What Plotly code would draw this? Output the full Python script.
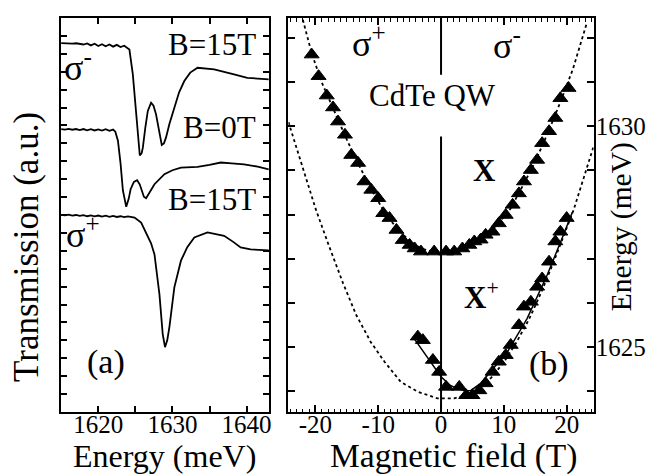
import plotly.graph_objects as go

# ---------------- Panel (a): transmission spectra ----------------
top_x = [1615.0, 1615.5, 1616.0, 1616.5, 1617.0, 1617.5, 1618.0, 1618.5, 1619.0, 1619.5,
         1620.0, 1620.5, 1621.0, 1621.5, 1622.0, 1622.5, 1623.0, 1623.5, 1624.2, 1624.66,
         1625.11, 1625.35, 1625.6, 1625.85, 1626.01, 1626.35, 1626.68, 1627.12, 1627.45,
         1627.79, 1628.2, 1628.56, 1628.85, 1629.13, 1629.6, 1630.26, 1630.9, 1631.6, 1632.4,
         1633.39, 1635.63, 1638.31, 1640.1, 1643.0]
top_y = [20.60, 20.58, 20.60, 20.57, 20.59, 20.55, 20.52, 20.58, 20.47, 20.56,
         20.44, 20.54, 20.42, 20.52, 20.40, 20.50, 20.38, 20.45, 20.24, 18.85,
         16.43, 15.20, 14.32, 14.45, 14.76, 15.90, 16.81, 17.27, 17.10,
         16.62, 15.60, 14.91, 15.00, 15.32, 16.10, 16.99, 17.85, 18.48, 18.95,
         19.22, 19.13, 18.85, 18.66, 18.57]

mid_x = [1615.0, 1615.5, 1616.0, 1616.5, 1617.0, 1617.5, 1618.0, 1618.5, 1619.0, 1619.5,
         1620.0, 1620.5, 1621.0, 1621.5, 1622.0, 1622.3, 1622.65, 1623.0, 1623.32, 1623.77,
         1624.1, 1624.36, 1624.8, 1625.24, 1625.6, 1625.87, 1626.15, 1626.45, 1627.0,
         1627.58, 1628.92, 1630.0, 1631.15, 1633.39, 1635.0, 1636.52, 1638.0, 1639.66,
         1641.5, 1643.0]
mid_y = [15.80, 15.77, 15.81, 15.76, 15.80, 15.74, 15.80, 15.73, 15.79, 15.72,
         15.78, 15.71, 15.79, 15.70, 15.77, 15.65, 15.15, 13.90, 12.37, 11.46,
         11.90, 12.44, 12.85, 12.94, 12.70, 12.35, 12.02, 11.94, 12.30,
         12.72, 13.28, 13.50, 13.65, 13.69, 13.80, 13.93, 13.88, 13.83,
         13.70, 13.55]

bot_x = [1615.0, 1615.5, 1616.0, 1616.5, 1617.0, 1617.5, 1618.0, 1618.5, 1619.0, 1619.5,
         1620.0, 1620.5, 1621.0, 1621.5, 1622.0, 1622.5, 1623.0, 1623.5, 1624.0, 1624.5,
         1624.89, 1625.78, 1626.68, 1627.12, 1627.58, 1627.9, 1628.25, 1628.69, 1629.0,
         1629.3, 1629.59, 1630.26, 1631.15, 1632.0, 1632.95, 1634.73, 1636.97, 1638.2,
         1639.2, 1640.54, 1643.0]
bot_y = [11.01, 10.98, 11.02, 10.97, 11.00, 10.95, 10.99, 10.93, 10.98, 10.92,
         10.97, 10.91, 10.96, 10.90, 10.95, 10.89, 10.93, 10.88, 10.92, 10.87,
         10.86, 10.58, 9.75, 9.42, 8.80, 7.80, 6.57, 4.35, 3.62,
         4.00, 4.74, 6.96, 8.45, 9.20, 9.75, 10.03, 9.84, 9.50,
         9.19, 9.08, 9.03]

a_xticks = [1620, 1630, 1640]
a_xticktext = ["1620", "1630", "1640"]

# ---------------- Panel (b): energy vs magnetic field ----------------
X_B = [-20.6, -19.5, -18.2, -17.2, -16.4, -15.3, -14.3, -13.2, -12.2, -11.1, -10.0, -9.2,
       -8.2, -7.1, -6.1, -5.0, -4.2, -3.2, -1.1, 0.8, 2.1, 3.4, 4.5, 5.3, 6.3, 7.1, 8.2,
       9.2, 10.3, 11.4, 12.4, 13.2, 14.3, 15.3, 16.1, 17.2, 18.2, 19.0, 20.3]
X_E = [1631.63, 1631.14, 1630.70, 1630.43, 1630.11, 1629.81, 1629.35, 1629.17, 1628.75,
       1628.56, 1628.37, 1628.03, 1627.92, 1627.65, 1627.42, 1627.31, 1627.23, 1627.16,
       1627.16, 1627.16, 1627.16, 1627.23, 1627.31, 1627.39, 1627.43, 1627.54, 1627.61,
       1627.80, 1627.99, 1628.22, 1628.48, 1628.75, 1629.01, 1629.24, 1629.62, 1629.89,
       1630.19, 1630.64, 1630.87]

Xp_B = [-3.7, -2.9, -1.3, -0.3, 0.8, 2.9, 4.0, 5.0, 6.1, 7.1, 8.2, 9.2, 10.3, 11.1, 12.4,
        13.2, 14.3, 15.3, 16.1, 17.2, 18.2, 19.0, 20.0]
Xp_E = [1625.23, 1625.15, 1624.70, 1624.43, 1624.09, 1624.09, 1623.90, 1623.90, 1624.01,
        1624.17, 1624.43, 1624.66, 1624.81, 1625.04, 1625.49, 1625.91, 1626.02, 1626.36,
        1626.55, 1626.93, 1627.39, 1627.61, 1627.92]

fit_B = [-4.5, -1.6, 0.0, 1.5, 2.6, 3.8, 4.75, 6.3, 8.0, 10.6, 13.7, 16.9, 19.5, 20.9]
fit_E = [1625.23, 1624.66, 1624.32, 1624.12, 1624.05, 1624.00, 1624.01, 1624.17, 1624.45,
         1624.89, 1625.64, 1626.63, 1627.54, 1628.05]

dX_B = [-22.0, -20.6, -19.0, -17.0, -15.0, -13.0, -11.0, -9.0, -7.0, -5.0, -3.0, -1.0, 0.0,
        1.0, 3.0, 5.0, 7.0, 9.0, 11.0, 13.0, 15.0, 17.0, 19.0, 21.0, 23.2]
dX_E = [1632.42, 1631.66, 1631.00, 1630.35, 1629.70, 1629.10, 1628.55, 1628.05, 1627.68,
        1627.40, 1627.22, 1627.15, 1627.13, 1627.14, 1627.20, 1627.32, 1627.50, 1627.78,
        1628.12, 1628.65, 1629.20, 1629.85, 1630.55, 1631.30, 1632.34]

dXp_B = [-24.3, -19.9, -18.0, -15.6, -13.5, -11.2, -9.0, -6.4, -3.7, -0.6, 2.1, 4.0, 6.0,
         8.0, 10.0, 12.0, 14.0, 16.0, 18.0, 21.1, 24.3]
dXp_E = [1630.10, 1628.10, 1627.35, 1626.44, 1625.72, 1625.11, 1624.66, 1624.20, 1623.98,
         1623.83, 1623.83, 1623.90, 1624.05, 1624.30, 1624.65, 1625.10, 1625.62, 1626.25,
         1626.95, 1628.10, 1629.55]

zero_B = [0, 0, None, 0, 0]
zero_E = [1632.46, 1631.17, None, 1629.77, 1623.52]

b_xticks = [-20, -10, 0, 10, 20]
b_xticktext = ["-20", "-10", "0", "10", "20"]
b_yticks = [1625, 1630]
b_yticktext = ["1625", "1630"]

FONT = "Liberation Serif"
W, H = 666, 474

fig = go.Figure()
for xs, ys in [(top_x, top_y), (mid_x, mid_y), (bot_x, bot_y)]:
    fig.add_trace(go.Scatter(x=xs, y=ys, mode="lines", line=dict(color="black", width=1.8),
                             xaxis="x", yaxis="y", showlegend=False, hoverinfo="skip"))

fig.add_trace(go.Scatter(x=dXp_B, y=dXp_E, mode="lines", line=dict(color="black", width=1.8, dash="dot"),
                         xaxis="x2", yaxis="y2", showlegend=False))
fig.add_trace(go.Scatter(x=dX_B, y=dX_E, mode="lines", line=dict(color="black", width=1.8, dash="dot"),
                         xaxis="x2", yaxis="y2", showlegend=False))
fig.add_trace(go.Scatter(x=fit_B, y=fit_E, mode="lines", line=dict(color="black", width=1.5),
                         xaxis="x2", yaxis="y2", showlegend=False))
fig.add_trace(go.Scatter(x=zero_B, y=zero_E, mode="lines", line=dict(color="black", width=2),
                         xaxis="x2", yaxis="y2", showlegend=False, connectgaps=False))
for bs, es in [(X_B, X_E), (Xp_B, Xp_E)]:
    fig.add_trace(go.Scatter(x=bs, y=es, mode="markers",
                             marker=dict(symbol="triangle-up", size=13, color="black",
                                         line=dict(color="black", width=1)),
                             xaxis="x2", yaxis="y2", showlegend=False))

ydom = [1 - 404 / H, 1 - 10 / H]
axcommon = dict(showgrid=False, zeroline=False, showline=True, linecolor="black", linewidth=2,
                mirror="ticks", ticks="inside", tickcolor="black", tickwidth=1.5,
                tickfont=dict(family=FONT, size=25, color="black"))

fig.update_layout(
    width=W, height=H, margin=dict(l=0, r=0, t=0, b=0),
    paper_bgcolor="white", plot_bgcolor="white", showlegend=False,
    font=dict(family=FONT, color="black"),
    xaxis=dict(domain=[53 / W, 262 / W], range=[1614.94, 1643.0], anchor="y",
               tickmode="array", tickvals=a_xticks, ticktext=a_xticktext, ticklen=6,
               ticklabelstandoff=-11,
               minor=dict(dtick=5, tick0=1615, ticks="inside", ticklen=6, tickcolor="black", tickwidth=1.5),
               **axcommon),
    yaxis=dict(domain=ydom, range=[0, 22], anchor="x", tickmode="linear", tick0=0, dtick=1,
               showticklabels=False, ticklen=6, **axcommon),
    xaxis2=dict(domain=[281.7 / W, 588.3 / W], range=[-24.3, 24.3], anchor="y2",
                tickmode="array", tickvals=b_xticks, ticktext=b_xticktext, ticklen=7,
                ticklabelstandoff=-11,
                minor=dict(dtick=1, tick0=0, ticks="inside", ticklen=3.5, tickcolor="black", tickwidth=1.2),
                **axcommon),
    yaxis2=dict(domain=ydom, range=[1623.52, 1632.46], anchor="x2", side="right",
                tickmode="array", tickvals=b_yticks, ticktext=b_yticktext, ticklen=7,
                ticklabelstandoff=-5,
                minor=dict(dtick=1, tick0=1620, ticks="inside", ticklen=7, tickcolor="black", tickwidth=1.5),
                **axcommon),
)

def ann(text, x, y, xref, yref, size, xanchor="center", yanchor="middle", angle=0):
    fig.add_annotation(text=text, x=x, y=y, xref=xref, yref=yref, showarrow=False,
                       xanchor=xanchor, yanchor=yanchor, textangle=angle,
                       font=dict(family=FONT, size=size, color="black"))

# axis titles (paper coords)
ann("Energy (meV)", 157.5 / W, 1 - 448 / H, "paper", "paper", 32)
ann("Magnetic field (T)", 448 / W, 1 - 448 / H, "paper", "paper", 33.5)
ann("Transmission (a.u.)", 19 / W, 1 - 239 / H, "paper", "paper", 35, angle=-90)
ann("Energy (meV)", 616 / W, 1 - 219 / H, "paper", "paper", 29.5, angle=-90)

# panel (a) labels
ann("B=15T", 1641.5, 20.5, "x", "y", 31, xanchor="right")
ann("B=0T", 1641.5, 15.87, "x", "y", 31, xanchor="right")
ann("B=15T", 1641.5, 11.88, "x", "y", 31, xanchor="right")
ann("σ<sup>-</sup>", 1617.3, 19.35, "x", "y", 36)
ann("σ<sup>+</sup>", 1617.9, 10.05, "x", "y", 36)
ann("(a)", 1621.1, 2.8, "x", "y", 34)

# panel (b) labels
ann("σ<sup>+</sup>", -11.5, 1631.92, "x2", "y2", 36)
ann("σ<sup>-</sup>", 10.5, 1631.87, "x2", "y2", 36)
ann("CdTe QW", -1.3, 1630.71, "x2", "y2", 31)
ann("<b>X</b>", 6.86, 1629.0, "x2", "y2", 31)
ann("<b>X</b><sup>+</sup>", 6.5, 1626.17, "x2", "y2", 31)
ann("(b)", 17.2, 1624.62, "x2", "y2", 34)

fig.write_html("out.html")
